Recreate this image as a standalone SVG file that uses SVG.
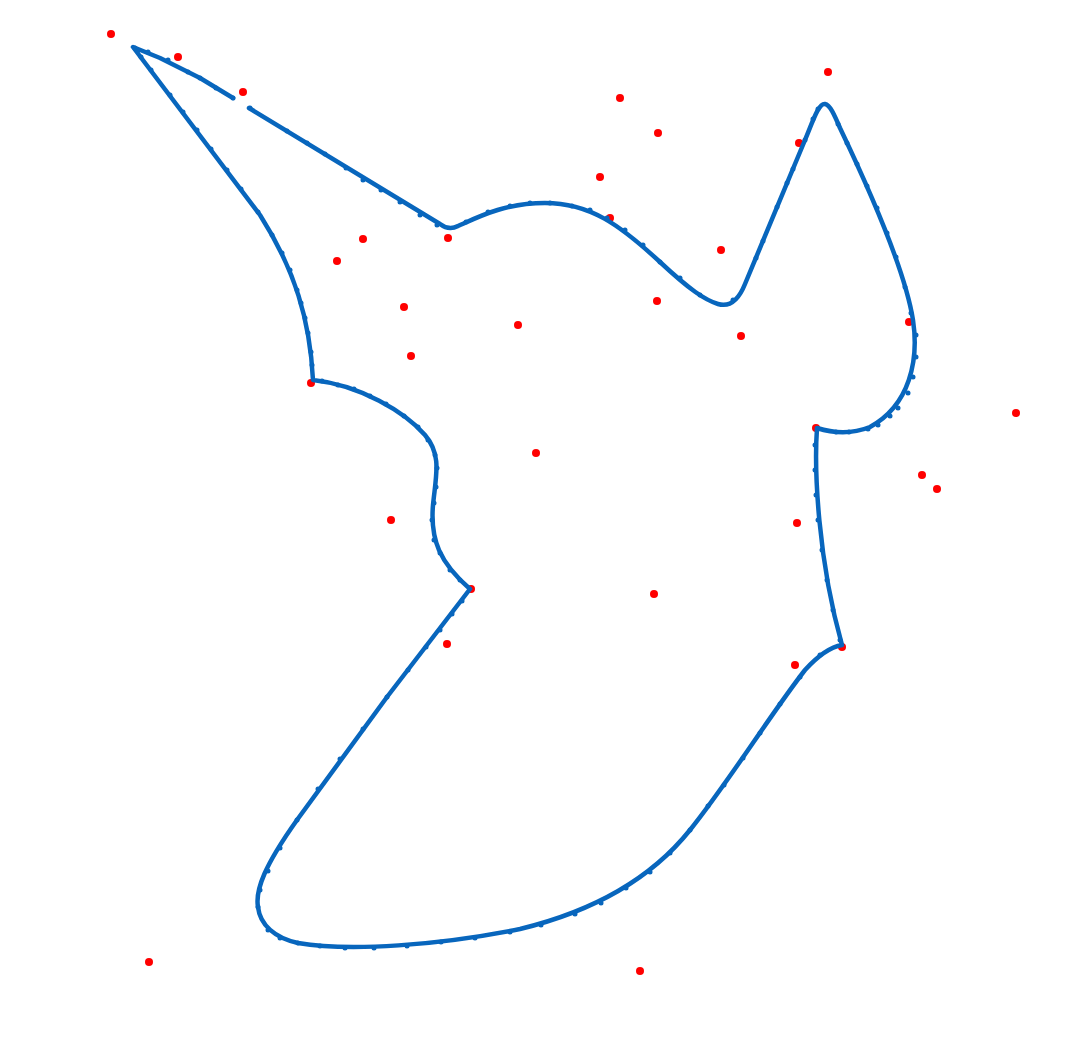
<svg xmlns="http://www.w3.org/2000/svg" width="1069" height="1050" viewBox="0 0 1069 1050">
<style>
.pt{fill:#ff0000}
.curve{fill:none;stroke:#0866bd;stroke-width:4.5;stroke-linejoin:round;stroke-linecap:round}
.v{fill:#0866bd}
</style>
<rect width="1069" height="1050" fill="#ffffff"/>
<g id="points">
<circle class="pt" cx="111" cy="34" r="4"/>
<circle class="pt" cx="178" cy="57" r="4"/>
<circle class="pt" cx="243" cy="92" r="4"/>
<circle class="pt" cx="828" cy="72" r="4"/>
<circle class="pt" cx="620" cy="98" r="4"/>
<circle class="pt" cx="658" cy="133" r="4"/>
<circle class="pt" cx="799" cy="143" r="4"/>
<circle class="pt" cx="600" cy="177" r="4"/>
<circle class="pt" cx="610" cy="218" r="4"/>
<circle class="pt" cx="363" cy="239" r="4"/>
<circle class="pt" cx="448" cy="238" r="4"/>
<circle class="pt" cx="337" cy="261" r="4"/>
<circle class="pt" cx="721" cy="250" r="4"/>
<circle class="pt" cx="404" cy="307" r="4"/>
<circle class="pt" cx="657" cy="301" r="4"/>
<circle class="pt" cx="518" cy="325" r="4"/>
<circle class="pt" cx="741" cy="336" r="4"/>
<circle class="pt" cx="909" cy="322" r="4"/>
<circle class="pt" cx="411" cy="356" r="4"/>
<circle class="pt" cx="311" cy="383" r="4"/>
<circle class="pt" cx="1016" cy="413" r="4"/>
<circle class="pt" cx="816" cy="428" r="4"/>
<circle class="pt" cx="536" cy="453" r="4"/>
<circle class="pt" cx="922" cy="475" r="4"/>
<circle class="pt" cx="937" cy="489" r="4"/>
<circle class="pt" cx="391" cy="520" r="4"/>
<circle class="pt" cx="797" cy="523" r="4"/>
<circle class="pt" cx="471" cy="589" r="4"/>
<circle class="pt" cx="654" cy="594" r="4"/>
<circle class="pt" cx="447" cy="644" r="4"/>
<circle class="pt" cx="842" cy="647" r="4"/>
<circle class="pt" cx="795" cy="665" r="4"/>
<circle class="pt" cx="149" cy="962" r="4"/>
<circle class="pt" cx="640" cy="971" r="4"/>
</g>
<g id="curve">
<path class="curve" d="M249,108 L440,224 Q449,231 458,226 C478,217 505,203 545,203 C590,203 620,225 660,262 C690,290 705,300 718,304 Q735,309 745,284 L805,140 C814,118 819,103 825,104 C830,105 834,114 840,128 C872,195 905,270 913,320 C919,360 910,405 870,427 Q845,437 817,428 C814,470 818,560 842,645 Q825,648 805,670 C770,715 730,780 690,830 C650,880 590,912 520,929 C440,945 350,952 298,943 C275,938 260,925 258,907 C255,890 265,865 297,820 L387,697 L470,589 C440,563 430,540 433,505 C436,475 442,455 425,435 C405,412 360,385 313,380 C310,320 295,270 260,215 L133,47 L160,58 L200,78 L233,98"/>
<g id="vertices">
<circle class="v" cx="250" cy="108" r="2.5"/><circle class="v" cx="287" cy="131" r="2.5"/><circle class="v" cx="307" cy="143" r="2.5"/><circle class="v" cx="325" cy="154" r="2.5"/><circle class="v" cx="346" cy="168" r="2.5"/><circle class="v" cx="363" cy="180" r="2.5"/><circle class="v" cx="381" cy="190" r="2.5"/><circle class="v" cx="400" cy="202" r="2.5"/><circle class="v" cx="420" cy="215" r="2.5"/><circle class="v" cx="437" cy="225" r="2.5"/>
<circle class="v" cx="466" cy="222" r="2.5"/><circle class="v" cx="488" cy="212" r="2.5"/><circle class="v" cx="510" cy="206" r="2.5"/><circle class="v" cx="530" cy="203" r="2.5"/><circle class="v" cx="550" cy="203" r="2.5"/><circle class="v" cx="572" cy="206" r="2.5"/><circle class="v" cx="590" cy="210" r="2.5"/><circle class="v" cx="607" cy="218" r="2.5"/><circle class="v" cx="625" cy="230" r="2.5"/><circle class="v" cx="643" cy="245" r="2.5"/><circle class="v" cx="660" cy="262" r="2.5"/><circle class="v" cx="680" cy="278" r="2.5"/><circle class="v" cx="700" cy="295" r="2.5"/><circle class="v" cx="733" cy="300" r="2.5"/>
<circle class="v" cx="756" cy="258" r="2.5"/><circle class="v" cx="763" cy="241" r="2.5"/><circle class="v" cx="777" cy="207" r="2.5"/><circle class="v" cx="787" cy="183" r="2.5"/><circle class="v" cx="793" cy="169" r="2.5"/><circle class="v" cx="805" cy="140" r="2.5"/><circle class="v" cx="813" cy="119" r="2.5"/><circle class="v" cx="818" cy="109" r="2.5"/>
<circle class="v" cx="838" cy="124" r="2.5"/><circle class="v" cx="847" cy="143" r="2.5"/><circle class="v" cx="857" cy="164" r="2.5"/><circle class="v" cx="867" cy="186" r="2.5"/><circle class="v" cx="877" cy="208" r="2.5"/><circle class="v" cx="887" cy="233" r="2.5"/><circle class="v" cx="896" cy="257" r="2.5"/><circle class="v" cx="905" cy="287" r="2.5"/><circle class="v" cx="911" cy="313" r="2.5"/><circle class="v" cx="916" cy="335" r="2.5"/><circle class="v" cx="916" cy="357" r="2.5"/><circle class="v" cx="913" cy="377" r="2.5"/><circle class="v" cx="908" cy="393" r="2.5"/><circle class="v" cx="898" cy="408" r="2.5"/><circle class="v" cx="890" cy="416" r="2.5"/><circle class="v" cx="878" cy="425" r="2.5"/><circle class="v" cx="868" cy="429" r="2.5"/><circle class="v" cx="849" cy="432" r="2.5"/><circle class="v" cx="836" cy="432" r="2.5"/>
<circle class="v" cx="815" cy="445" r="2.5"/><circle class="v" cx="815" cy="470" r="2.5"/><circle class="v" cx="816" cy="495" r="2.5"/><circle class="v" cx="818" cy="520" r="2.5"/><circle class="v" cx="822" cy="550" r="2.5"/><circle class="v" cx="827" cy="580" r="2.5"/><circle class="v" cx="833" cy="610" r="2.5"/><circle class="v" cx="840" cy="640" r="2.5"/>
<circle class="v" cx="820" cy="655" r="2.5"/><circle class="v" cx="800" cy="677" r="2.5"/><circle class="v" cx="780" cy="704" r="2.5"/><circle class="v" cx="760" cy="733" r="2.5"/><circle class="v" cx="743" cy="758" r="2.5"/><circle class="v" cx="724" cy="785" r="2.5"/><circle class="v" cx="708" cy="806" r="2.5"/><circle class="v" cx="690" cy="830" r="2.5"/><circle class="v" cx="670" cy="853" r="2.5"/><circle class="v" cx="650" cy="872" r="2.5"/><circle class="v" cx="626" cy="888" r="2.5"/><circle class="v" cx="601" cy="903" r="2.5"/><circle class="v" cx="575" cy="914" r="2.5"/><circle class="v" cx="541" cy="925" r="2.5"/><circle class="v" cx="510" cy="932" r="2.5"/><circle class="v" cx="475" cy="938" r="2.5"/><circle class="v" cx="441" cy="942" r="2.5"/><circle class="v" cx="407" cy="946" r="2.5"/><circle class="v" cx="374" cy="948" r="2.5"/><circle class="v" cx="345" cy="948" r="2.5"/><circle class="v" cx="320" cy="946" r="2.5"/><circle class="v" cx="298" cy="943" r="2.5"/><circle class="v" cx="280" cy="938" r="2.5"/><circle class="v" cx="268" cy="930" r="2.5"/><circle class="v" cx="258" cy="907" r="2.5"/>
<circle class="v" cx="260" cy="890" r="2.5"/><circle class="v" cx="268" cy="871" r="2.5"/><circle class="v" cx="280" cy="848" r="2.5"/><circle class="v" cx="297" cy="820" r="2.5"/><circle class="v" cx="318" cy="789" r="2.5"/><circle class="v" cx="340" cy="759" r="2.5"/><circle class="v" cx="363" cy="729" r="2.5"/><circle class="v" cx="387" cy="697" r="2.5"/><circle class="v" cx="408" cy="670" r="2.5"/><circle class="v" cx="426" cy="647" r="2.5"/><circle class="v" cx="440" cy="630" r="2.5"/><circle class="v" cx="452" cy="614" r="2.5"/><circle class="v" cx="462" cy="601" r="2.5"/>
<circle class="v" cx="460" cy="580" r="2.5"/><circle class="v" cx="450" cy="570" r="2.5"/><circle class="v" cx="440" cy="553" r="2.5"/><circle class="v" cx="434" cy="540" r="2.5"/><circle class="v" cx="432" cy="520" r="2.5"/><circle class="v" cx="434" cy="503" r="2.5"/><circle class="v" cx="436" cy="487" r="2.5"/><circle class="v" cx="437" cy="468" r="2.5"/><circle class="v" cx="435" cy="455" r="2.5"/><circle class="v" cx="428" cy="440" r="2.5"/><circle class="v" cx="418" cy="427" r="2.5"/><circle class="v" cx="404" cy="416" r="2.5"/><circle class="v" cx="386" cy="404" r="2.5"/><circle class="v" cx="370" cy="396" r="2.5"/><circle class="v" cx="354" cy="389" r="2.5"/><circle class="v" cx="338" cy="385" r="2.5"/><circle class="v" cx="322" cy="381" r="2.5"/>
<circle class="v" cx="312" cy="365" r="2.5"/><circle class="v" cx="311" cy="352" r="2.5"/><circle class="v" cx="308" cy="333" r="2.5"/><circle class="v" cx="305" cy="318" r="2.5"/><circle class="v" cx="301" cy="303" r="2.5"/><circle class="v" cx="297" cy="290" r="2.5"/><circle class="v" cx="290" cy="270" r="2.5"/><circle class="v" cx="282" cy="253" r="2.5"/><circle class="v" cx="272" cy="235" r="2.5"/><circle class="v" cx="258" cy="212" r="2.5"/><circle class="v" cx="241" cy="189" r="2.5"/><circle class="v" cx="227" cy="170" r="2.5"/><circle class="v" cx="211" cy="149" r="2.5"/><circle class="v" cx="197" cy="130" r="2.5"/><circle class="v" cx="183" cy="112" r="2.5"/><circle class="v" cx="170" cy="95" r="2.5"/><circle class="v" cx="151" cy="70" r="2.5"/><circle class="v" cx="141" cy="57" r="2.5"/><circle class="v" cx="135" cy="48" r="2.5"/>
<circle class="v" cx="148" cy="52" r="2.5"/><circle class="v" cx="168" cy="60" r="2.5"/><circle class="v" cx="188" cy="72" r="2.5"/><circle class="v" cx="200" cy="78" r="2.5"/><circle class="v" cx="216" cy="88" r="2.5"/><circle class="v" cx="233" cy="98" r="2.5"/>
</g>
</g>
</svg>
